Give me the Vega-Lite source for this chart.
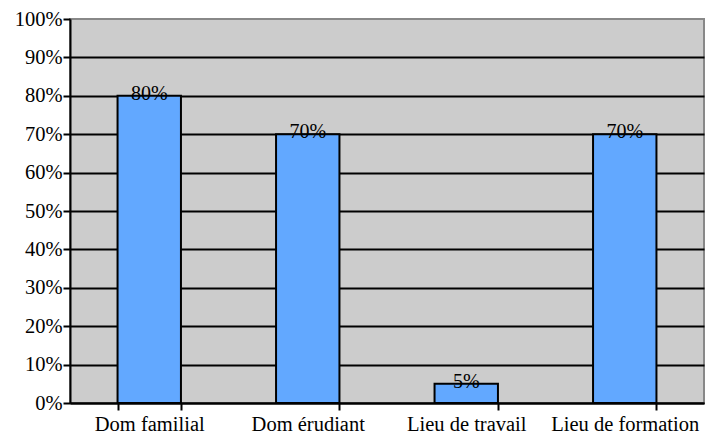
{
  "$schema": "https://vega.github.io/schema/vega-lite/v6.json",
  "width": 634,
  "height": 384,
  "autosize": {"type": "none"},
  "padding": {"left": 70, "top": 19, "right": 6, "bottom": 34},
  "background": "white",
  "config": {
    "view": {"fill": "#CCCCCC", "stroke": "#888888", "strokeWidth": 2},
    "font": "Liberation Serif"
  },
  "data": {
    "values": [
      {"lieu": "Dom familial", "pct": 80, "label": "80%"},
      {"lieu": "Dom érudiant", "pct": 70, "label": "70%"},
      {"lieu": "Lieu de travail", "pct": 5, "label": "5%"},
      {"lieu": "Lieu de formation", "pct": 70, "label": "70%"}
    ]
  },
  "encoding": {
    "x": {
      "field": "lieu", "type": "nominal", "sort": null,
      "scale": {"paddingInner": 0.6, "paddingOuter": 0.3},
      "axis": {
        "title": null, "labelAngle": 0, "labelFontSize": 20.5, "labelColor": "black",
        "labelFont": "Liberation Serif", "labelPadding": 4,
        "tickBand": "extent", "tickColor": "black", "tickWidth": 2, "tickSize": 7,
        "domainColor": "black", "domainWidth": 2, "grid": false
      }
    },
    "y": {
      "field": "pct", "type": "quantitative",
      "scale": {"domain": [0, 100], "nice": false},
      "axis": {
        "title": null, "values": [0,10,20,30,40,50,60,70,80,90,100],
        "labelExpr": "datum.value + '%'", "labelFontSize": 20.5, "labelColor": "black",
        "labelFont": "Liberation Serif", "labelPadding": 1,
        "tickColor": "black", "tickWidth": 2, "tickSize": 7,
        "domainColor": "black", "domainWidth": 2,
        "grid": true, "gridColor": "black", "gridWidth": 2,
        "gridOpacity": {"condition": {"test": "datum.value === 100", "value": 0}, "value": 1}
      }
    }
  },
  "layer": [
    {"mark": {"type": "bar", "fill": "#62A8FF", "stroke": "black", "strokeWidth": 2}},
    {
      "mark": {"type": "text", "baseline": "middle", "dy": -2, "fontSize": 20, "font": "Liberation Serif", "color": "black"},
      "encoding": {"text": {"field": "label", "type": "nominal"}}
    }
  ]
}
